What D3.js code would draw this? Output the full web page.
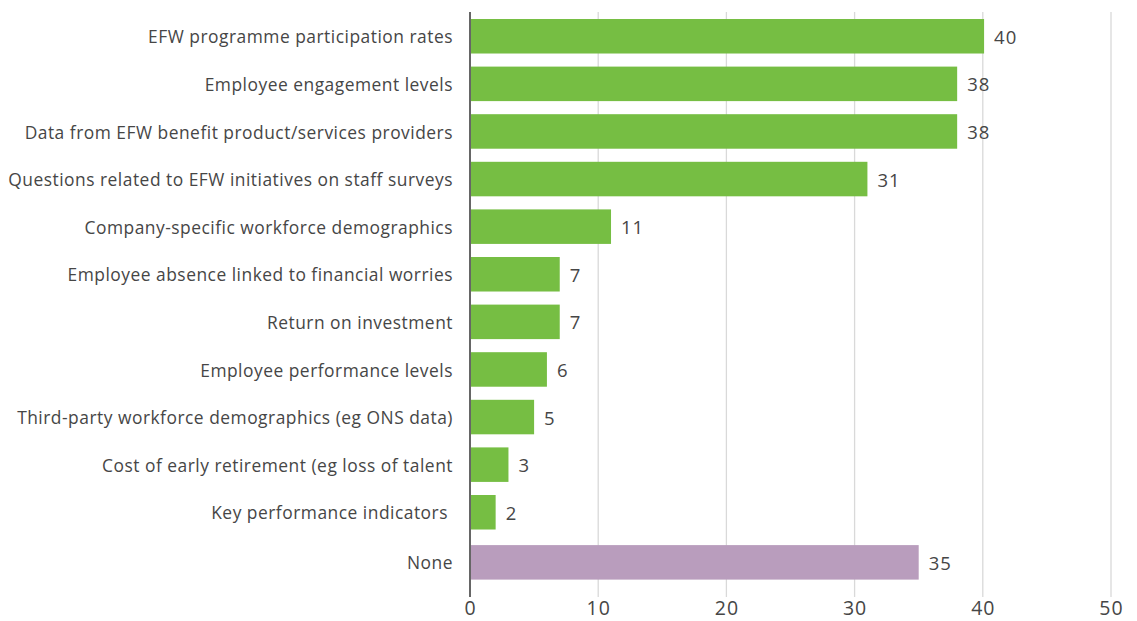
<!DOCTYPE html>
<html>
<head>
<meta charset="utf-8">
<script src="https://cdn.jsdelivr.net/npm/d3@7"></script>
<style>
  body { margin: 0; background: #fff; }
  text { font-family: "Open Sans", Lato, sans-serif; fill: #464646; }
</style>
</head>
<body>
<div id="chart"></div>
<script>
// categories, top to bottom
var categories = [
  "EFW programme participation rates",
  "Employee engagement levels",
  "Data from EFW benefit product/services providers",
  "Questions related to EFW initiatives on staff surveys",
  "Company-specific workforce demographics",
  "Employee absence linked to financial worries",
  "Return on investment",
  "Employee performance levels",
  "Third-party workforce demographics (eg ONS data)",
  "Cost of early retirement (eg loss of talent",
  "Key performance indicators ",
  "None"
];
var values = [40.1, 38, 38, 31, 11, 7, 7, 6, 5, 3, 2, 35];
var xTicks = [0, 10, 20, 30, 40, 50];

var W = 1137, H = 621;
var x0 = 470, x1 = 1111;

var svg = d3.select("#chart").append("svg")
    .attr("width", W)
    .attr("height", H);

var x = d3.scaleLinear().domain([0, 50]).range([x0, x1]);
var y = d3.scaleBand().domain(categories)
    .range([19, 19 + 47.6 * 11.725])
    .paddingInner(0.275)
    .paddingOuter(0);

// "None" sits a touch lower than the rest
function yPos(d) { return y(d) + (d === "None" ? 2.5 : 0); }

// gridlines
svg.append("g")
  .selectAll("line")
  .data(xTicks.slice(1))
  .join("line")
    .attr("x1", d => x(d)).attr("x2", d => x(d))
    .attr("y1", 12).attr("y2", 597)
    .attr("stroke", "#d9d9d9")
    .attr("stroke-width", 1.3);

// bars
svg.append("g")
  .selectAll("rect")
  .data(categories)
  .join("rect")
    .attr("x", x(0))
    .attr("y", d => yPos(d))
    .attr("width", (d, i) => x(values[i]) - x(0))
    .attr("height", y.bandwidth())
    .attr("fill", d => d === "None" ? "#b99dbd" : "#76be43");

// value labels
svg.append("g")
  .selectAll("text")
  .data(categories)
  .join("text")
    .attr("x", (d, i) => x(values[i]) + 10)
    .attr("y", d => yPos(d) + y.bandwidth() / 2 + 1)
    .attr("dy", "0.35em")
    .style("font-size", "18.5px")
    .style("letter-spacing", "1px")
    .text((d, i) => Math.round(values[i]));

// category labels
svg.append("g")
  .selectAll("text")
  .data(categories)
  .join("text")
    .attr("x", 453)
    .attr("y", d => yPos(d) + y.bandwidth() / 2 + 1)
    .attr("dy", "0.35em")
    .attr("text-anchor", "end")
    .style("font-size", "17.4px")
    .style("letter-spacing", "0.5px")
    .style("white-space", "pre")
    .text(d => d);

// y axis line
svg.append("line")
  .attr("x1", x0).attr("x2", x0)
  .attr("y1", 12).attr("y2", 597)
  .attr("stroke", "#666")
  .attr("stroke-width", 2);

// x tick labels
var xAxis = d3.axisBottom(x).tickValues(xTicks).tickSize(0).tickPadding(0);
var gx = svg.append("g")
  .attr("transform", "translate(0,601)")
  .call(xAxis);
gx.select(".domain").remove();
gx.selectAll("text")
  .style("font-size", "19.5px")
  .style("letter-spacing", "1px")
  .style("fill", "#464646");
</script>
</body>
</html>
